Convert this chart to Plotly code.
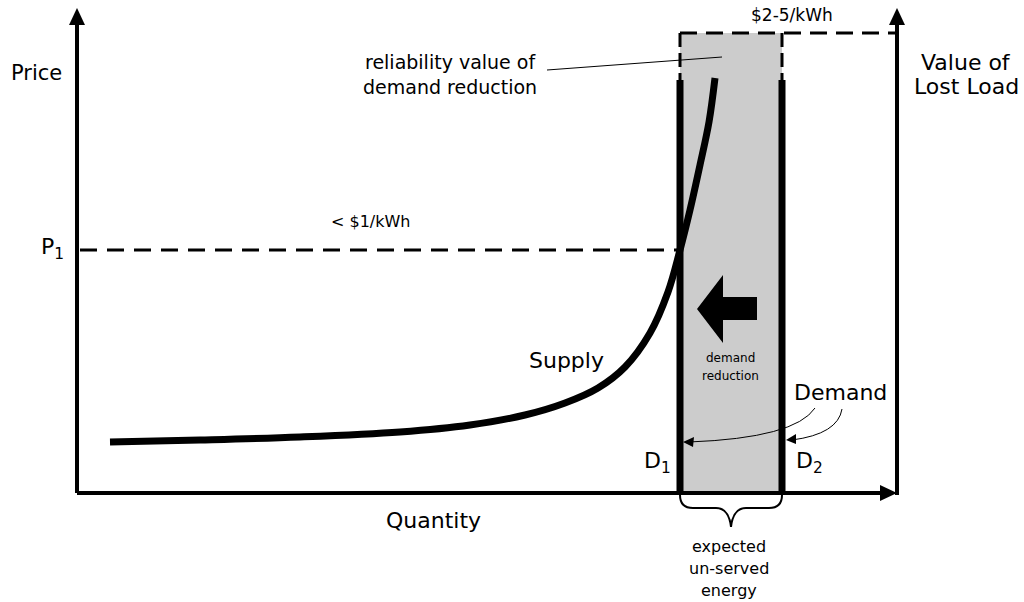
import plotly.graph_objects as go

# Diagram space: x = quantity (px-like units), y = price (px-like units, top = high)
W, H = 1024, 602

# supply curve
supply_q = [110, 200, 300, 400, 470, 525, 565, 598, 625, 650, 668, 680, 690, 700, 709, 715]
supply_p = [442, 440, 437, 432, 425, 415, 403, 388, 367, 333, 292, 250, 210, 165, 122, 78]

# key levels
axis_origin = (77, 493)
axis_top = 8
axis_right = 897
d1_q, d2_q = 680, 782
p1_price = 250
voll_price = 33
demand_top = 80

FONT = "DejaVu Sans"

fig = go.Figure()

# dashed price lines
fig.add_trace(go.Scatter(x=[axis_origin[0] + 3, d1_q], y=[p1_price, p1_price], mode="lines",
                         line=dict(color="black", width=3, dash="17px,10px")))
fig.add_trace(go.Scatter(x=[d1_q, axis_right], y=[voll_price, voll_price], mode="lines",
                         line=dict(color="black", width=3, dash="17px,9px")))
for q in (d1_q, d2_q):
    fig.add_trace(go.Scatter(x=[q, q], y=[voll_price, demand_top], mode="lines",
                             line=dict(color="black", width=3, dash="14px,6px")))

# demand lines D1, D2
for q in (d1_q, d2_q):
    fig.add_trace(go.Scatter(x=[q, q], y=[demand_top, axis_origin[1]], mode="lines",
                             line=dict(color="black", width=7)))

# supply curve
fig.add_trace(go.Scatter(x=supply_q, y=supply_p, mode="lines",
                         line=dict(color="black", width=7, shape="spline", smoothing=1)))

# axes
fig.add_trace(go.Scatter(x=[axis_origin[0], axis_origin[0], None, axis_origin[0], axis_right - 14,
                            None, axis_right, axis_right],
                         y=[axis_origin[1], axis_top + 14, None, axis_origin[1], axis_origin[1],
                            None, axis_origin[1] + 2, axis_top + 14],
                         mode="lines", line=dict(color="black", width=4)))

# leader line for the reliability label
fig.add_trace(go.Scatter(x=[547, 722], y=[70, 57], mode="lines",
                         line=dict(color="black", width=1)))

shapes = [
    # unserved energy band
    dict(type="rect", x0=d1_q, x1=d2_q, y0=voll_price, y1=axis_origin[1],
         fillcolor="#cccccc", line_width=0, layer="below"),
    # axis arrowheads
    dict(type="path", path=f"M {axis_origin[0]} {axis_top} L {axis_origin[0]-8} {axis_top+17} "
                           f"L {axis_origin[0]+8} {axis_top+17} Z",
         fillcolor="black", line_width=0),
    dict(type="path", path=f"M {axis_right} {axis_top} L {axis_right-8} {axis_top+17} "
                           f"L {axis_right+8} {axis_top+17} Z",
         fillcolor="black", line_width=0),
    dict(type="path", path=f"M {axis_right} {axis_origin[1]} L {axis_right-17} {axis_origin[1]-8} "
                           f"L {axis_right-17} {axis_origin[1]+8} Z",
         fillcolor="black", line_width=0),
    # demand reduction block arrow
    dict(type="path", path="M 697 309 L 723 275 L 723 297 L 757 297 L 757 320 L 723 320 L 723 343 Z",
         fillcolor="black", line_width=0),
    # curved pointers from "Demand"
    dict(type="path", path="M 815 408 Q 795 438 689 442", line=dict(color="black", width=1)),
    dict(type="path", path="M 683 442 L 694 437 L 693 447 Z", fillcolor="black", line_width=0),
    dict(type="path", path="M 842 409 Q 838 434 792 440", line=dict(color="black", width=1)),
    dict(type="path", path="M 786 440 L 796 434 L 796 444 Z", fillcolor="black", line_width=0),
    # brace under the band
    dict(type="path", path="M 680 495 Q 680 508 693 508 L 716 508 Q 729 508 731 527 "
                           "Q 733 508 746 508 L 769 508 Q 782 508 782 495",
         line=dict(color="black", width=2)),
]

def txt(x, y, s, size, anchor="center"):
    return dict(x=x, y=y, text=s, showarrow=False, xanchor=anchor, yanchor="middle",
                font=dict(family=FONT, size=size, color="black"))

annotations = [
    txt(36, 73, "Price", 21),
    txt(966, 62, "Value of", 22),
    txt(966, 86, "Lost Load", 22),
    txt(792, 15, "$2-5/kWh", 17),
    txt(370, 221, "< $1/kWh", 16),
    txt(450, 62, "reliability value of", 19),
    txt(450, 87, "demand reduction", 19),
    txt(52, 248, "P<sub>1</sub>", 22),
    txt(566, 360, "Supply", 22),
    txt(730, 358, "demand", 12),
    txt(730, 376, "reduction", 12),
    txt(840, 392, "Demand", 22),
    txt(657, 462, "D<sub>1</sub>", 22),
    txt(809, 462, "D<sub>2</sub>", 22),
    txt(433, 520, "Quantity", 22),
    txt(729, 546, "expected", 16),
    txt(729, 568, "un-served", 16),
    txt(729, 590, "energy", 16),
]

fig.update_layout(
    width=W, height=H,
    margin=dict(l=0, r=0, t=0, b=0),
    plot_bgcolor="white", paper_bgcolor="white",
    showlegend=False,
    xaxis=dict(range=[0, W], visible=False, fixedrange=True),
    yaxis=dict(range=[H, 0], visible=False, fixedrange=True),
    shapes=shapes,
    annotations=annotations,
)

fig.write_html("out.html", config={"displayModeBar": False},
               post_script="document.body.style.margin='0';")
